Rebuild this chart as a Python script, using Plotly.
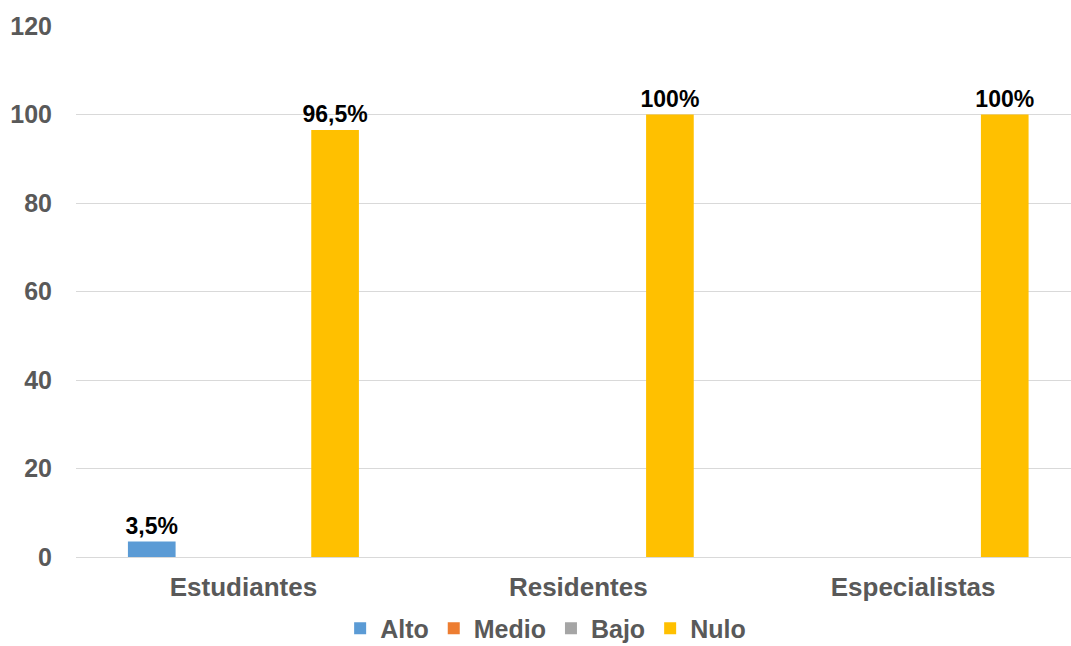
import plotly.graph_objects as go

# Grouped bar chart: knowledge level by group
categories = ["Estudiantes", "Residentes", "Especialistas"]
series_names = ["Alto", "Medio", "Bajo", "Nulo"]
alto = [3.5, 0, 0]
medio = [0, 0, 0]
bajo = [0, 0, 0]
nulo = [96.5, 100, 100]
y_ticks = [0, 20, 40, 60, 80, 100, 120]

series_values = [alto, medio, bajo, nulo]
colors = ["#5b9bd5", "#ed7d31", "#a5a5a5", "#ffc000"]
FONT = "Liberation Sans, Arial, sans-serif"


def pct_label(v):
    # Spanish decimal comma, hide labels for empty bars
    return (f"{v:g}".replace(".", ",") + "%") if v else ""


fig = go.Figure()
for name, vals, col in zip(series_names, series_values, colors):
    fig.add_trace(go.Bar(
        name=name,
        x=categories,
        y=vals,
        marker=dict(color=col, line=dict(width=0)),
        text=[pct_label(v) for v in vals],
        textposition="outside",
        constraintext="none",
        textfont=dict(family=FONT, size=23, color="#000000", weight="bold"),
        cliponaxis=False,
    ))

fig.update_layout(
    width=1071,
    height=646,
    margin=dict(l=76, r=0, t=26, b=89),
    paper_bgcolor="white",
    plot_bgcolor="white",
    barmode="group",
    bargap=0.27,
    bargroupgap=0.22,
    showlegend=True,
    legend=dict(
        orientation="h",
        x=0.472,
        xanchor="center",
        yref="container",
        y=0.027,
        yanchor="middle",
        font=dict(family=FONT, size=25, color="#595959", weight="bold"),
        itemclick=False,
        tracegroupgap=0,
    ),
    xaxis=dict(
        range=[-0.5, 2.4716],
        showgrid=False,
        showline=False,
        ticks="",
        ticklabelstandoff=12,
        tickfont=dict(family=FONT, size=26, color="#595959", weight="bold"),
    ),
    yaxis=dict(
        range=[0, 120],
        tickvals=y_ticks,
        showgrid=True,
        gridcolor="#d9d9d9",
        gridwidth=1,
        zeroline=True,
        zerolinecolor="#d9d9d9",
        zerolinewidth=1,
        showline=False,
        ticks="outside",
        ticklen=18,
        tickcolor="rgba(0,0,0,0)",
        tickfont=dict(family=FONT, size=25, color="#595959", weight="bold"),
    ),
)

fig.write_html("out.html")
